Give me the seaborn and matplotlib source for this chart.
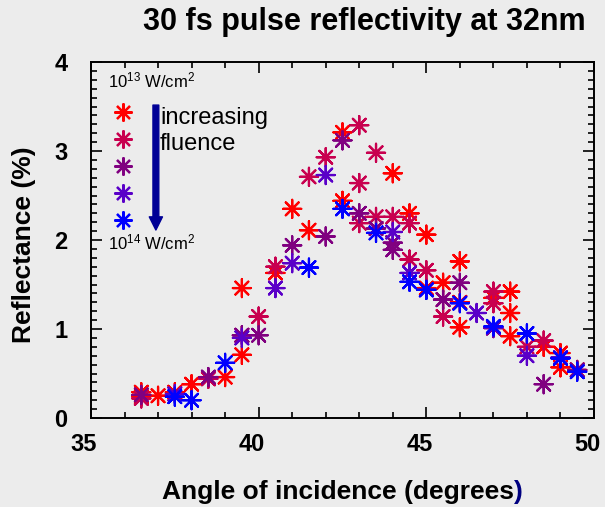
import matplotlib
matplotlib.use("Agg")
import matplotlib.pyplot as plt
import matplotlib.transforms as mtransforms
import seaborn as sns
import pandas as pd
from matplotlib.lines import Line2D
from matplotlib.ticker import MultipleLocator

# ---------------- data ----------------
series_names = ["1e13", "2", "3", "4", "1e14"]
series_colors = ["#ff0000", "#c8004f", "#800080", "#5a00c8", "#0000ff"]

red_angle = [36.5, 36.5, 37.0, 37.5, 38.0, 39.0, 39.5, 39.5, 40.5, 41.0, 41.5, 42.5, 42.5,
             44.0, 44.5, 45.0, 45.0, 45.5, 46.0, 46.0, 46.0, 47.0, 47.5, 47.5, 47.5, 48.5,
             49.0, 49.0, 49.5]
red_refl = [0.29, 0.24, 0.25, 0.29, 0.38, 0.46, 1.46, 0.71, 1.63, 2.35, 2.11, 3.21, 2.44,
            2.75, 2.30, 2.06, 1.46, 1.52, 1.76, 1.30, 1.02, 1.35, 1.42, 1.18, 0.92, 0.80,
            0.73, 0.57, 0.54]

crimson_angle = [36.5, 38.5, 39.5, 40.0, 40.5, 41.5, 42.0, 43.0, 43.0, 43.0, 43.5, 43.5,
                 44.0, 44.5, 44.5, 45.0, 45.5, 45.5, 47.0, 47.0, 48.0, 48.5]
crimson_refl = [0.22, 0.44, 0.93, 1.14, 1.70, 2.71, 2.93, 3.29, 2.64, 2.19, 2.98, 2.26,
                2.26, 2.19, 1.78, 1.66, 1.33, 1.14, 1.42, 1.29, 0.80, 0.87]

purple_angle = [36.5, 38.5, 39.5, 40.0, 41.0, 42.0, 42.5, 43.0, 43.5, 44.0, 44.0, 45.5,
                46.0, 47.0, 48.5, 49.5]
purple_refl = [0.26, 0.46, 0.93, 0.93, 1.94, 2.04, 3.12, 2.30, 2.13, 1.97, 1.89, 1.33,
               1.52, 1.01, 0.38, 0.54]

violet_angle = [37.5, 39.5, 40.5, 41.0, 42.0, 44.0, 44.5, 45.0, 46.5, 47.0, 48.0, 49.0]
violet_refl = [0.27, 0.90, 1.46, 1.74, 2.73, 2.09, 1.63, 1.44, 1.18, 1.02, 0.70, 0.68]

blue_angle = [37.5, 38.0, 39.0, 41.5, 42.5, 43.5, 44.5, 45.0, 46.0, 47.0, 48.0, 49.0, 49.5]
blue_refl = [0.24, 0.20, 0.62, 1.69, 2.35, 2.08, 1.53, 1.44, 1.29, 1.03, 0.95, 0.67, 0.52]

title_text = "30 fs pulse reflectivity at 32nm"
xlabel_text = "Angle of incidence (degrees"
ylabel_text = "Reflectance (%)"
top_label = r"10$^{13}$ W/cm$^{2}$"
bottom_label = r"10$^{14}$ W/cm$^{2}$"
arrow_label = "increasing\nfluence"

# ---------------- table ----------------
frames = []
for name, a, r in zip(series_names,
                      [red_angle, crimson_angle, purple_angle, violet_angle, blue_angle],
                      [red_refl, crimson_refl, purple_refl, violet_refl, blue_refl]):
    frames.append(pd.DataFrame({"angle": a, "refl": r, "series": name}))
df = pd.concat(frames, ignore_index=True)

# ---------------- style ----------------
sns.set_style("ticks")
bg = "#ececec"
plt.rcParams["font.family"] = ["Liberation Sans", "DejaVu Sans"]
plt.rcParams["mathtext.fontset"] = "custom"
plt.rcParams["mathtext.rm"] = "Liberation Sans"
plt.rcParams["mathtext.it"] = "Liberation Sans:italic"
plt.rcParams["mathtext.bf"] = "Liberation Sans:bold"
for key in ["text.color", "axes.labelcolor", "xtick.color", "ytick.color",
            "xtick.labelcolor", "ytick.labelcolor"]:
    plt.rcParams[key] = "black"

fig = plt.figure(figsize=(6.05, 5.07), dpi=100, facecolor=bg)
ax = fig.add_axes([0.1504, 0.1755, 0.8314, 0.7022])
ax.set_facecolor(bg)

marker = (8, 2, 0)
sns.scatterplot(data=df, x="angle", y="refl", hue="series", hue_order=series_names,
                palette=series_colors, marker=marker, s=170, linewidth=1.6,
                legend=False, ax=ax, zorder=3)

ax.set_xlim(35, 50)
ax.set_ylim(0, 4)
ax.xaxis.set_major_locator(MultipleLocator(5))
ax.xaxis.set_minor_locator(MultipleLocator(1))
ax.yaxis.set_major_locator(MultipleLocator(1))
ax.yaxis.set_minor_locator(MultipleLocator(0.1))
ax.tick_params(which="both", direction="in", top=True, right=True, color="black",
               labelcolor="black", width=1.2)
ax.tick_params(which="major", length=8)
ax.tick_params(which="minor", length=4)
ax.tick_params(axis="y", which="major", pad=17, labelsize=17)
ax.tick_params(axis="x", which="major", pad=11, labelsize=17)
fig.canvas.draw()
xt = ax.get_xticklabels()
for i, lab in enumerate(xt):
    lab.set_fontweight("bold")
    dx = 4 if i == 0 else -7
    lab.set_transform(lab.get_transform() +
                      mtransforms.ScaledTranslation(dx / 100, 0, fig.dpi_scale_trans))
yt = ax.get_yticklabels()
for i, lab in enumerate(yt):
    lab.set_fontweight("bold")
    if i == 0:
        lab.set_transform(lab.get_transform() +
                          mtransforms.ScaledTranslation(0, 10 / 100, fig.dpi_scale_trans))
for sp in ax.spines.values():
    sp.set_visible(True)
    sp.set_linewidth(1.4)
    sp.set_color("black")

ax.set_xlabel(xlabel_text, fontsize=19, fontweight="bold", color="black")
ax.xaxis.set_label_coords(0.492, -0.208)
ax.xaxis.label.set_va("center")
ax.annotate(")", xy=(1, 0), xycoords=ax.xaxis.label, ha="left", va="bottom",
            fontsize=19, fontweight="bold", color="#000080")
ax.set_ylabel(ylabel_text, fontsize=19, fontweight="bold", color="black")
ax.yaxis.set_label_coords(-0.133, 0.486)
ax.yaxis.label.set_va("center")

fig.text(0.6017, 0.957, title_text, ha="center", va="center", fontsize=22,
         fontweight="bold", color="black")

# legend keys (fluence order)
handles = [Line2D([], [], marker=marker, linestyle="none", color=c, markersize=13,
                  markeredgewidth=1.6) for c in series_colors]
ax.legend(handles, [""] * len(handles), loc="upper left", bbox_to_anchor=(0.0457, 0.877),
          frameon=False, borderpad=0, borderaxespad=0, handlelength=1.3, handleheight=1.2,
          handletextpad=0, labelspacing=0.89, fontsize=10)

ax.text(0.034, 0.947, top_label, transform=ax.transAxes, ha="left", va="center",
        fontsize=12, color="black")
ax.text(0.034, 0.494, bottom_label, transform=ax.transAxes, ha="left", va="center",
        fontsize=12, color="black")
ax.text(0.137, 0.806, arrow_label, transform=ax.transAxes, ha="left", va="center",
        fontsize=17, linespacing=1.22, color="black")
ax.annotate("", xy=(0.129, 0.528), xytext=(0.129, 0.879), xycoords="axes fraction",
            arrowprops=dict(width=4.2, headwidth=9.5, headlength=9.5, color="#000096",
                            shrink=0))

fig.savefig("out.png", dpi=100, facecolor=bg)
